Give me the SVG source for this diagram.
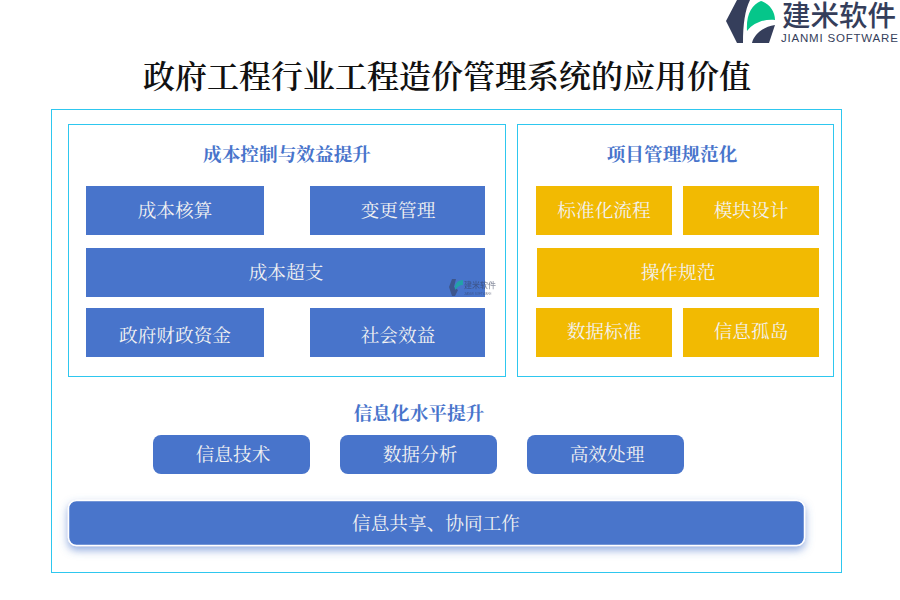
<svg xmlns="http://www.w3.org/2000/svg" width="900" height="600" viewBox="0 0 900 600">
<defs>
<style>
text{font-family:"Noto Serif CJK SC","Noto Sans CJK SC",serif}
.frame{fill:#fff;stroke:#2ec7ef;stroke-width:1}
.blue{fill:#4874cb}
.gold{fill:#f2ba02}
.lbl{fill:#f2f2f2;font-size:18.670px;text-anchor:middle;dominant-baseline:central}
.head{fill:#4874cb;font-size:18.670px;font-weight:700;text-anchor:middle;dominant-baseline:central}
.brand{font-family:"Noto Sans CJK SC","Liberation Sans",sans-serif}
</style>
<filter id="sh" x="-5%" y="-40%" width="110%" height="190%">
<feDropShadow dx="0" dy="4" stdDeviation="4" flood-color="#4874cb" flood-opacity="0.6"/>
</filter>
</defs>
<rect width="900" height="600" fill="#fff"/>
<g id="logo">
<path d="M750 0H737L726 21L737 43H743C743 24 745 10 750 0Z" fill="#353e5b"/>
<path d="M747 31C746 14 752 5 761 1C770 4 775 12 775 20C765 19 754 22 747 31Z" fill="#05c68a"/>
<path d="M745 43H752C754 35 762 27 775 25L769 43Z" fill="#353e5b"/>
<text class="brand" x="782" y="26" font-size="28.500" fill="#353e5b" font-weight="500">建米软件</text>
<text x="781" y="42" font-size="11.500" fill="#353e5b" style="font-family:'Liberation Sans',sans-serif" letter-spacing="0.800">JIANMI SOFTWARE</text>
</g>
<text id="title" x="447" y="74" font-size="32" font-weight="600" fill="#111" text-anchor="middle" dominant-baseline="central">政府工程行业工程造价管理系统的应用价值</text>
<g id="outer"><rect class="frame" x="51.500" y="109.500" width="790" height="463"/></g>
<g id="panel-left"><rect class="frame" x="68.500" y="124.500" width="437" height="252"/>
<text class="head" x="287" y="153">成本控制与效益提升</text></g>
<g id="panel-right"><rect class="frame" x="517.500" y="124.500" width="316" height="252"/>
<text class="head" x="672" y="153">项目管理规范化</text></g>
<g id="n1"><rect class="blue" x="86" y="186" width="178" height="49"/><text class="lbl" x="175" y="209">成本核算</text></g>
<g id="n2"><rect class="blue" x="310" y="186" width="175" height="49"/><text class="lbl" x="398" y="209">变更管理</text></g>
<g id="n3"><rect class="blue" x="86" y="248" width="399" height="49"/><text class="lbl" x="286" y="271">成本超支</text></g>
<g id="n4"><rect class="blue" x="86" y="308" width="178" height="49"/><text class="lbl" x="175" y="333.500">政府财政资金</text></g>
<g id="n5"><rect class="blue" x="310" y="308" width="175" height="49"/><text class="lbl" x="398" y="333.500">社会效益</text></g>
<g id="n6"><rect class="gold" x="536" y="186" width="136" height="49"/><text class="lbl" x="604" y="209">标准化流程</text></g>
<g id="n7"><rect class="gold" x="683" y="186" width="136" height="49"/><text class="lbl" x="751" y="209">模块设计</text></g>
<g id="n8"><rect class="gold" x="537" y="248" width="282" height="49"/><text class="lbl" x="678" y="271">操作规范</text></g>
<g id="n9"><rect class="gold" x="536" y="308" width="136" height="49"/><text class="lbl" x="604" y="330">数据标准</text></g>
<g id="n10"><rect class="gold" x="683" y="308" width="136" height="49"/><text class="lbl" x="751" y="330">信息孤岛</text></g>
<g id="watermark" opacity="0.55">
<path d="M456 279H452L449 287L452 296H455L458 290L454 287Z" fill="#353e5b"/>
<path d="M455 290C454 284 458 280 463 280V285C460 285 457 287 455 290Z" fill="#05c68a"/>
<text class="brand" x="464" y="288" font-size="8" fill="#353e5b" font-weight="500">建米软件</text>
<text x="464" y="295" font-size="3" fill="#353e5b" style="font-family:'Liberation Sans',sans-serif">JIANMI SOFTWARE</text>
</g>
<text id="head3" class="head" x="419" y="412">信息化水平提升</text>
<g id="n11"><rect class="blue" x="153" y="435" width="157" height="39" rx="8"/><text class="lbl" x="233" y="453">信息技术</text></g>
<g id="n12"><rect class="blue" x="340" y="435" width="157" height="39" rx="8"/><text class="lbl" x="420" y="453">数据分析</text></g>
<g id="n13"><rect class="blue" x="527" y="435" width="157" height="39" rx="8"/><text class="lbl" x="607" y="453">高效处理</text></g>
<g id="n14"><rect class="blue" x="68.500" y="500.500" width="736" height="45" rx="8" stroke="#fff" stroke-width="1.500" filter="url(#sh)"/><text class="lbl" x="436" y="522">信息共享、协同工作</text></g>
<g id="connectors"></g>
</svg>
